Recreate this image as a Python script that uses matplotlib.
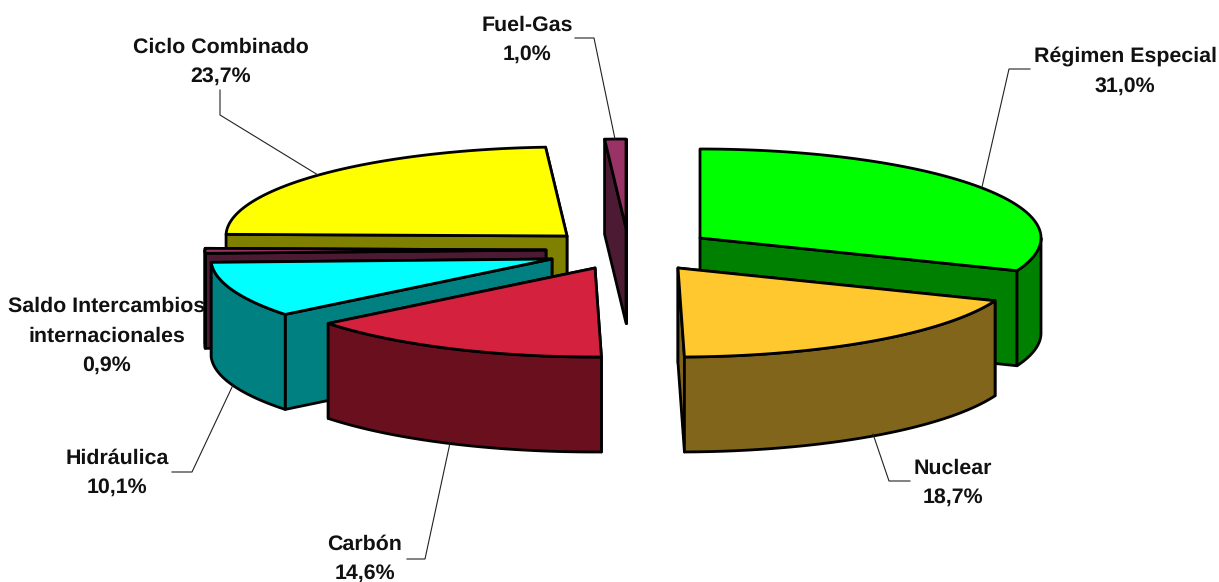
import numpy as np
import matplotlib
matplotlib.use("Agg")
import matplotlib.pyplot as plt

plt.rcParams['font.family'] = ['Liberation Sans', 'DejaVu Sans']
plt.rcParams['text.hinting'] = 'none'

# Datos
names = ['Régimen Especial', 'Nuclear', 'Carbón', 'Hidráulica',
         'Saldo Intercambios\ninternacionales', 'Ciclo Combinado', 'Fuel-Gas']
shares = [31.0, 18.7, 14.6, 10.1, 0.9, 23.7, 1.0]

# Estilo: colores de cara superior y de pared
top_colors = ['#00FF00', '#FFC82E', '#D4213D', '#00FFFF', '#993366', '#FFFF00', '#993366']
side_colors = ['#008000', '#80651A', '#6A0F1E', '#008080', '#4D1A33', '#808000', '#4D1A33']

# Layout (pixeles): centro de cada porcion separada, elipse y grosor
centers = [(700, 238), (678, 268), (595, 268), (552, 259), (546, 250), (567, 236), (626, 228)]
RX, RY, DEPTH = 341, 89, 95
draw_order = [5, 6, 0, 1, 4, 3, 2]

label_pos = [(1125, 71), (953, 483), (365, 559), (117, 473), (107, 336), (221, 62), (527, 40)]
leaders = [
    [(1030, 69), (1009, 69), (982, 187)],
    [(910, 481), (889, 481), (873, 434)],
    [(407, 559), (425, 559), (450, 443)],
    [(172, 472), (192, 472), (233, 385)],
    [(220, 90), (220, 115), (318, 175)],
    [(575, 38), (594, 38), (615, 139)],
]


def rim(c, deg):
    t = np.radians(deg)
    return np.column_stack([c[0] + RX * np.sin(t), c[1] - RY * np.cos(t)])


fig = plt.figure(figsize=(12.19, 5.82), dpi=100)
ax = fig.add_axes([0, 0, 1, 1])
ax.set_xlim(0, 1219)
ax.set_ylim(582, 0)
ax.axis('off')

edges = np.cumsum([0] + shares) * 3.6
style = dict(edgecolor='black', linewidth=2.0, joinstyle='round')

for i in draw_order:
    c = centers[i]
    a0, a1 = edges[i], edges[i + 1]
    down = np.array([0, DEPTH])

    # paredes radiales, primero la de atras
    walls = sorted([a0, a1], key=lambda a: rim(c, a)[0, 1])
    for a in walls:
        p = rim(c, a)[0]
        ax.fill(*zip(c, p, p + down, np.array(c) + down), facecolor=side_colors[i], zorder=1, **style)

    # pared exterior, solo la mitad delantera
    lo, hi = max(a0, 90), min(a1, 270)
    if lo < hi:
        arc = rim(c, np.linspace(lo, hi, 60))
        wall = np.vstack([arc, arc[::-1] + down])
        ax.fill(wall[:, 0], wall[:, 1], facecolor=side_colors[i], zorder=1, **style)

    arc = rim(c, np.linspace(a0, a1, 120))
    top = np.vstack([c, arc])
    ax.fill(top[:, 0], top[:, 1], facecolor=top_colors[i], zorder=1, **style)

for line in leaders:
    xs, ys = zip(*line)
    ax.plot(xs, ys, color='#222222', linewidth=0.8, zorder=2)

for name, share, (x, y) in zip(names, shares, label_pos):
    label = name + '\n' + f'{share:.1f}%'.replace('.', ',')
    ax.text(x, y, label, ha='center', va='center', fontsize=15.4, fontweight='bold',
            color='#111111', linespacing=1.65, zorder=3)

fig.savefig('out.png', dpi=100)
